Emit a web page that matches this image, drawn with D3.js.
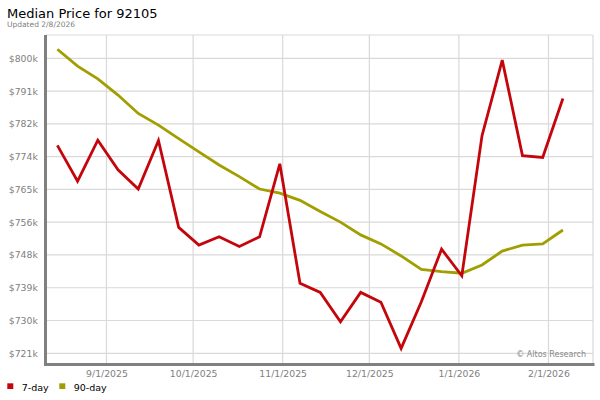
<!DOCTYPE html>
<html>
<head>
<meta charset="utf-8">
<script src="https://cdn.jsdelivr.net/npm/d3@7"></script>
<style>
  body { margin: 0; background: #fff; }
  svg { display: block; font-family: "DejaVu Sans", Verdana, sans-serif; }
</style>
</head>
<body>
<script>
const m = {
  width: 600,
  height: 400,
  left: 45.8,
  right: 593,
  top: 35,
  bottom: 364
}

// weekly points
const dates = [
  "2025-08-15", "2025-08-22", "2025-08-29", "2025-09-05", "2025-09-12", "2025-09-19",
  "2025-09-26", "2025-10-03", "2025-10-10", "2025-10-17", "2025-10-24", "2025-10-31",
  "2025-11-07", "2025-11-14", "2025-11-21", "2025-11-28", "2025-12-05", "2025-12-12",
  "2025-12-19", "2025-12-26", "2026-01-02", "2026-01-09", "2026-01-16", "2026-01-23",
  "2026-01-30", "2026-02-06"
]
const sevenDay = [
  777.2, 767.7, 778.6, 770.7, 765.6, 778.5, 755.4, 750.7, 752.9, 750.3, 752.9, 772.3,
  740.5, 738.1, 730.3, 738.1, 735.5, 723.2, 735.6, 749.6, 742.5, 779.8, 799.9, 774.5,
  774.0, 789.7
]
const ninetyDay = [
  802.8, 798.3, 794.9, 790.6, 785.7, 782.6, 779.0, 775.5, 772.0, 768.9, 765.6, 764.5,
  762.6, 759.6, 756.8, 753.4, 751.0, 747.8, 744.2, 743.6, 743.2, 745.4, 749.1, 750.7,
  751.0, 754.7
]
const yTickVals = [721.9, 730.62, 739.34, 748.06, 756.78, 765.5, 774.22, 782.94, 791.66, 800.38]
const xTickDates = ["2025-09-01", "2025-10-01", "2025-11-01", "2025-12-01", "2026-01-01", "2026-02-01"]
const series = [
  {name: "7-day", values: sevenDay, color: "#c4060c"},
  {name: "90-day", values: ninetyDay, color: "#a09e00"}
]

const parse = d3.timeParse("%Y-%m-%d")

let svg = d3.select("body")
  .append("svg")
  .attr("width", m.width)
  .attr("height", m.height);

let x = d3.scaleTime()
  .domain([new Date(2025, 7, 11), new Date(2026, 1, 16, 10)])
  .range([m.left, m.right])

let y = d3.scaleLinear()
  .domain([719.05, 806.58])
  .range([m.bottom, m.top])

// title
svg.append("text")
  .attr("x", 7).attr("y", 17.5)
  .attr("font-size", 13)
  .attr("fill", "#000")
  .text("Median Price for 92105")

svg.append("text")
  .attr("x", 7).attr("y", 27)
  .attr("font-size", 7.5)
  .attr("fill", "#808080")
  .text("Updated 2/8/2026")

// grid
let grid = svg.append("g")
  .attr("stroke", "#d9d9d9")
  .attr("stroke-width", 1.2)

grid.selectAll(".hg")
  .data(yTickVals)
  .enter()
  .append("line")
  .attr("x1", m.left).attr("x2", m.right)
  .attr("y1", d => y(d)).attr("y2", d => y(d))

grid.selectAll(".vg")
  .data(xTickDates)
  .enter()
  .append("line")
  .attr("x1", d => x(parse(d))).attr("x2", d => x(parse(d)))
  .attr("y1", m.top).attr("y2", m.bottom)

grid.append("line")
  .attr("x1", m.left).attr("x2", m.right)
  .attr("y1", m.top).attr("y2", m.top)
grid.append("line")
  .attr("x1", m.right).attr("x2", m.right)
  .attr("y1", m.top).attr("y2", m.bottom)

// axes labels
let yAxis = svg.append("g")
  .attr("transform", `translate(${m.left - 8},0)`)
  .call(d3.axisLeft(y)
    .tickValues(yTickVals)
    .tickSize(0)
    .tickPadding(0)
    .tickFormat(d => "$" + Math.floor(d) + "k"))
yAxis.select(".domain").remove()
yAxis.selectAll("text")
  .attr("font-family", "DejaVu Sans")
  .attr("font-size", 9.3)
  .attr("fill", "#808080")

let xAxis = svg.append("g")
  .attr("transform", `translate(0,${m.bottom + 6})`)
  .call(d3.axisBottom(x)
    .tickValues(xTickDates.map(parse))
    .tickSize(0)
    .tickPadding(0)
    .tickFormat(d3.timeFormat("%-m/%-d/%Y")))
xAxis.select(".domain").remove()
xAxis.selectAll("text")
  .attr("font-family", "DejaVu Sans")
  .attr("font-size", 9.3)
  .attr("fill", "#808080")

// frame
svg.append("line")
  .attr("x1", m.left - 0.3).attr("x2", m.left - 0.3)
  .attr("y1", m.top).attr("y2", m.bottom + 2)
  .attr("stroke", "#808080").attr("stroke-width", 3)
svg.append("line")
  .attr("x1", m.left - 1.8).attr("x2", m.right + 1.5)
  .attr("y1", m.bottom + 0.6).attr("y2", m.bottom + 0.6)
  .attr("stroke", "#808080").attr("stroke-width", 3)

svg.append("text")
  .attr("x", 586).attr("y", 357)
  .attr("text-anchor", "end")
  .attr("font-size", 8)
  .attr("fill", "#888")
  .text("\u00a9 Altos Research")

// lines
let line = d3.line()
  .x((d, i) => x(parse(dates[i])))
  .y(d => y(d))

svg.append("g")
  .selectAll("path")
  .data(series.slice().reverse())
  .enter()
  .append("path")
  .attr("fill", "none")
  .attr("stroke", d => d.color)
  .attr("stroke-width", 2.8)
  .attr("stroke-linejoin", "miter")
  .attr("d", d => line(d.values))

// legend
let legend = svg.append("g")
let lx = [7.3, 59.3]
series.forEach((s, i) => {
  legend.append("rect")
    .attr("x", lx[i]).attr("y", 383.3)
    .attr("width", 6).attr("height", 5.7)
    .attr("fill", s.color)
  legend.append("text")
    .attr("x", lx[i] + 14.4).attr("y", 390.5)
    .attr("font-size", 9.5)
    .attr("fill", "#000")
    .text(s.name)
})
</script>
</body>
</html>
